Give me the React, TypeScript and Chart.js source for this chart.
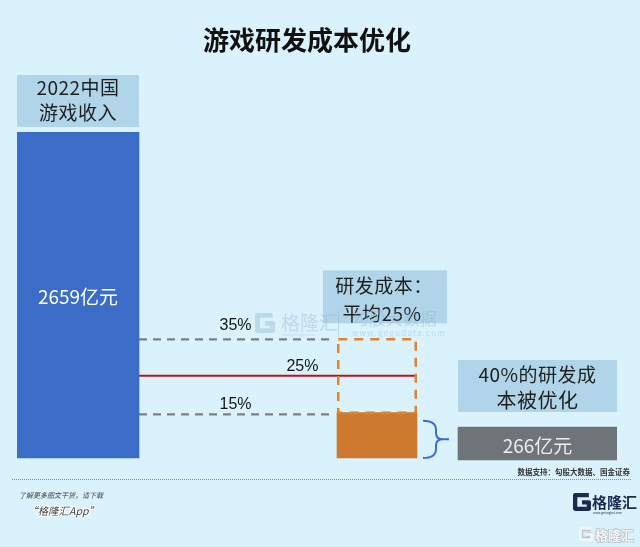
import React, { useEffect, useRef } from "react";
import { Chart, registerables } from "chart.js";

Chart.register(...registerables);

// ---------- data ----------
const chartTitle = "游戏研发成本优化";
const barLabels = ["2022中国游戏收入", "研发成本", "平均研发成本", "被优化研发成本"];
// horizontal positions of the bars on a 0..100 linear axis
const barCenters = [10.17, 60, 60, 86.75];
// vertical values: share of 2022 revenue (%), floating [start, end]
const revenueRange = [0, 100];
const rdFillRange = [0, 13.9];
const rdAvgRange = [13.9, 36.4];
const optimizedRange = [-0.6, 9.5];
// reference lines
const refLineLabels = ["35%", "25%", "15%"];
const refLineLevels = [36.4, 25.2, 13.4];
const refLineStarts = [20.33, 20.33, 20.33];
const refLineEnds = [52.17, 66.67, 52.17];
// texts
const valueTexts = ["2659亿元", "266亿元"];
const boxTexts = [
  ["2022中国", "游戏收入"],
  ["研发成本：", "平均25%"],
  ["40%的研发成", "本被优化"],
];
const sourceText = "数据支持：勾股大数据、国金证券";
const footerLine1 = "了解更多图文干货，请下载";
const footerLine2 = "“格隆汇App”";
const brandText = "格隆汇";

const CJK = '"Noto Sans CJK SC", "Noto Sans", sans-serif';
const NUM = '"Liberation Sans Narrow", "Liberation Sans", "Noto Sans", sans-serif';

function drawG(ctx: CanvasRenderingContext2D, x: number, y: number, s: number, color: string, lwScale = 0.24) {
  const lw = s * lwScale;
  ctx.save();
  ctx.strokeStyle = color;
  ctx.lineWidth = lw;
  ctx.lineJoin = "round";
  ctx.beginPath();
  ctx.moveTo(x + s - lw / 2, y + lw / 2);
  ctx.lineTo(x + lw / 2, y + lw / 2);
  ctx.lineTo(x + lw / 2, y + s - lw / 2);
  ctx.lineTo(x + s - lw / 2, y + s - lw / 2);
  ctx.lineTo(x + s - lw / 2, y + s * 0.52);
  ctx.lineTo(x + s * 0.5, y + s * 0.52);
  ctx.stroke();
  ctx.restore();
}

const annotPlugin = {
  id: "annot",
  afterDatasetsDraw(chart: any) {
    const ctx: CanvasRenderingContext2D = chart.ctx;
    const el = (i: number) => chart.getDatasetMeta(i).data[0];
    const blue = el(0);
    const fill = el(1);
    const dash = el(2);
    const gray = el(3);
    const boxColor = "#b0d5e8";
    const textColor = "#1e1e1e";

    ctx.save();
    // dashed outline of average R&D cost
    const dl = dash.x - dash.width / 2;
    const dr = dash.x + dash.width / 2;
    ctx.setLineDash([9, 7]);
    ctx.lineWidth = 2.5;
    ctx.strokeStyle = "#e0822e";
    ctx.strokeRect(dl + 1.25, dash.y, dr - dl - 2.5, dash.base - dash.y);
    ctx.setLineDash([]);

    ctx.textAlign = "center";
    ctx.textBaseline = "middle";

    // box above revenue bar
    const bl = blue.x - blue.width / 2;
    ctx.fillStyle = boxColor;
    ctx.fillRect(bl, blue.y - 57, blue.width, 52);
    ctx.fillStyle = textColor;
    ctx.font = `19px ${CJK}`;
    (ctx as any).letterSpacing = "0.5px";
    ctx.fillText(boxTexts[0][0], blue.x, blue.y - 44);
    ctx.fillText(boxTexts[0][1], blue.x, blue.y - 19);

    // box above R&D
    ctx.fillStyle = boxColor;
    ctx.fillRect(dl - 14, dash.y - 69, dr - dl + 44, 53);
    ctx.fillStyle = textColor;
    const bx2 = dl - 14 + (dr - dl + 44) / 2 - 3;
    ctx.fillText(boxTexts[1][0], bx2 + 2, dash.y - 54);
    ctx.fillText(boxTexts[1][1], bx2, dash.y - 26);

    // box above optimized bar
    const gl = gray.x - gray.width / 2;
    ctx.fillStyle = boxColor;
    ctx.fillRect(gl, gray.y - 67, gray.width, 52);
    ctx.fillStyle = textColor;
    ctx.font = `19px ${CJK}`;
    ctx.fillText(boxTexts[2][0], gray.x, gray.y - 52);
    ctx.font = `20px ${CJK}`;
    ctx.fillText(boxTexts[2][1], gray.x, gray.y - 27);
    (ctx as any).letterSpacing = "0px";

    // values inside bars
    ctx.font = `19px ${CJK}`;
    ctx.fillStyle = "#ffffff";
    ctx.fillText(valueTexts[0], blue.x, (blue.y + blue.base) / 2 + 2);
    ctx.fillStyle = "#ececec";
    ctx.fillText(valueTexts[1], gray.x, (gray.y + gray.base) / 2 + 2);

    // reference line labels
    const xs = chart.scales.x;
    const labelX = [36.42, 47.58, 36.42];
    const labelDy = [-14, -9, -10];
    ctx.font = `16px ${NUM}`;
    ctx.fillStyle = "#151515";
    refLineLabels.forEach((t, i) => {
      const pts = chart.getDatasetMeta(4 + i).data;
      ctx.fillText(t, xs.getPixelForValue(labelX[i]), pts[0].y + labelDy[i]);
    });

    // brace
    const fr = fill.x + fill.width / 2 + 6;
    const top = fill.y + 8;
    const bot = fill.base;
    const mid = (top + bot) / 2;
    const bw = 13;
    ctx.strokeStyle = "#3a6cd0";
    ctx.lineWidth = 2;
    ctx.beginPath();
    ctx.moveTo(fr, top);
    ctx.quadraticCurveTo(fr + bw, top, fr + bw, top + 9);
    ctx.lineTo(fr + bw, mid - 6);
    ctx.quadraticCurveTo(fr + bw, mid, fr + bw + 7, mid);
    ctx.lineTo(fr + bw + 13, mid);
    ctx.moveTo(fr + bw + 7, mid);
    ctx.quadraticCurveTo(fr + bw, mid, fr + bw, mid + 6);
    ctx.lineTo(fr + bw, bot - 9);
    ctx.quadraticCurveTo(fr + bw, bot, fr, bot);
    ctx.stroke();
    ctx.restore();
  },
  afterDraw(chart: any) {
    const ctx: CanvasRenderingContext2D = chart.ctx;
    ctx.save();
    ctx.textBaseline = "middle";
    // title
    ctx.textAlign = "center";
    ctx.fillStyle = "#111111";
    ctx.font = `bold 26px ${CJK}`;
    ctx.fillText(chartTitle, 307, 40);

    // source
    ctx.textAlign = "right";
    ctx.fillStyle = "#333333";
    ctx.font = `bold 7.5px ${CJK}`;
    ctx.fillText(sourceText, 630, 472);

    // dotted separator
    ctx.strokeStyle = "#8a8a8a";
    ctx.lineWidth = 1;
    ctx.setLineDash([1, 1]);
    ctx.beginPath();
    ctx.moveTo(12, 479.5);
    ctx.lineTo(632, 479.5);
    ctx.stroke();
    ctx.setLineDash([]);

    // footer left
    ctx.textAlign = "left";
    ctx.fillStyle = "#444444";
    ctx.font = `italic 7px ${CJK}`;
    ctx.fillText(footerLine1, 19, 495);
    ctx.font = `italic 10.5px ${CJK}`;
    ctx.strokeStyle = "#ffffff";
    ctx.lineWidth = 2;
    ctx.strokeText(footerLine2, 27, 511);
    ctx.fillStyle = "#444444";
    ctx.fillText(footerLine2, 27, 511);

    // brand logo
    drawG(ctx, 573, 493, 18, "#1b2a4e");
    ctx.fillStyle = "#1b2a4e";
    ctx.font = `bold 15px ${CJK}`;
    ctx.fillText(brandText, 592, 502);
    ctx.font = `3px ${CJK}`;
    ctx.fillText("www.gelonghui.com", 593, 513);

    // faint brand (white with grey edge)
    drawG(ctx, 579, 527, 14, "#b9c3c9", 0.3);
    drawG(ctx, 579, 527, 14, "#f4f7f9", 0.2);
    ctx.font = `bold 13px ${CJK}`;
    ctx.strokeStyle = "#b3bec5";
    ctx.lineWidth = 1.4;
    ctx.strokeText(brandText, 595, 535);
    ctx.fillStyle = "#f4f7f9";
    ctx.fillText(brandText, 595, 535);

    // center watermark
    ctx.globalAlpha = 0.4;
    const wm = "#8fb1d2";
    drawG(ctx, 255, 313, 20, wm);
    ctx.fillStyle = wm;
    ctx.font = `19px ${CJK}`;
    ctx.fillText(brandText, 281, 323);
    ctx.font = `3.5px ${CJK}`;
    ctx.fillText("www.gelonghui.com", 282, 335);
    ctx.strokeStyle = wm;
    ctx.lineWidth = 1;
    ctx.beginPath();
    ctx.moveTo(338.5, 310);
    ctx.lineTo(338.5, 338);
    ctx.stroke();
    ctx.font = `17px ${CJK}`;
    ctx.fillText("勾股大数据", 352, 319);
    ctx.font = `8px ${CJK}`;
    (ctx as any).letterSpacing = "1.2px";
    ctx.fillText("www.gogudata.com", 352, 333);
    ctx.restore();
  },
};

export default function App() {
  const ref = useRef<HTMLCanvasElement>(null);
  useEffect(() => {
    const lineColors = ["#808080", "#c0111b", "#808080"];
    const lineDashes = [[8, 6], [], [8, 6]];
    const chart = new Chart(ref.current as HTMLCanvasElement, {
      type: "bar",
      data: {
        datasets: [
          {
            label: barLabels[0],
            data: [{ x: barCenters[0], y: revenueRange }],
            backgroundColor: "#3b6cc7",
            barThickness: 122,
            stack: "all",
          },
          {
            label: barLabels[1],
            data: [{ x: barCenters[1], y: rdFillRange }],
            backgroundColor: "#cd7a30",
            barThickness: 80,
            stack: "all",
          },
          {
            label: barLabels[2],
            data: [{ x: barCenters[2], y: rdAvgRange }],
            backgroundColor: "rgba(0,0,0,0)",
            barThickness: 80,
            stack: "all",
          },
          {
            label: barLabels[3],
            data: [{ x: barCenters[3], y: optimizedRange }],
            backgroundColor: "#6e7477",
            barThickness: 159,
            stack: "all",
          },
          ...refLineLevels.map((lv, i) => ({
            type: "line",
            label: refLineLabels[i],
            data: [
              { x: refLineStarts[i], y: lv },
              { x: refLineEnds[i], y: lv },
            ],
            borderColor: lineColors[i],
            borderWidth: i === 1 ? 2 : 2.2,
            borderDash: lineDashes[i],
            pointRadius: 0,
            fill: false,
          })),
        ] as any,
      },
      options: {
        animation: false,
        responsive: true,
        maintainAspectRatio: false,
        events: [],
        layout: { padding: { left: 17, right: 23, top: 132, bottom: 82.5 } },
        plugins: {
          legend: { display: false },
          tooltip: { enabled: false },
          title: { display: false },
        },
        scales: {
          x: { type: "linear", min: 0, max: 100, display: false, offset: false },
          y: { min: -2, max: 100, display: false, stacked: false },
        },
      } as any,
      plugins: [annotPlugin],
    });
    return () => chart.destroy();
  }, []);
  return (
    <div
      style={{
        position: "fixed",
        left: 0,
        top: 0,
        width: 640,
        height: 547,
        background: "#daf2fc",
      }}
    >
      <canvas ref={ref} />
    </div>
  );
}
